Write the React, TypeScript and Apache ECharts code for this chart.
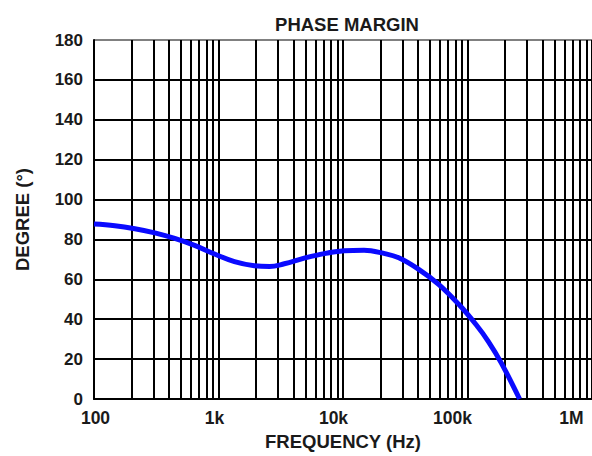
import React, { useEffect, useRef } from "react";
import * as echarts from "echarts";

const freqHz = [100, 147, 213, 308, 445, 643, 929, 1343, 1941, 2570, 3380, 4880, 7060, 10210, 14750, 21310, 28050, 40550, 58610, 84720, 117400, 147200, 187100, 262000];
const phaseDeg = [87.7, 86.9, 85.4, 83.3, 80.5, 77.0, 72.7, 68.9, 66.8, 66.4, 67.8, 70.6, 72.9, 74.3, 74.6, 73.0, 70.8, 65.0, 57.5, 47.6, 37.2, 28.8, 18.0, 0];

const minorGridHz = [
  200, 300, 400, 500, 600, 700, 800, 900,
  2000, 3000, 4000, 5000, 6000, 7000, 8000, 9000,
  20000, 30000, 40000, 50000, 60000, 70000, 80000, 90000,
  200000, 300000, 400000, 500000, 600000, 700000, 800000, 900000,
];

const xTickLabels: Record<number, string> = { 100: "100", 1000: "1k", 10000: "10k", 100000: "100k", 1000000: "1M" };
const yTicks = [0, 20, 40, 60, 80, 100, 120, 140, 160, 180];

const FONT = "'Liberation Sans', Arial, sans-serif";

export default function App() {
  const ref = useRef<HTMLDivElement>(null);
  useEffect(() => {
    if (!ref.current) return;
    const chart = echarts.init(ref.current, undefined, { renderer: "svg" });
    const splitColors = yTicks.map((v, i) => (i === yTicks.length - 1 ? "#808080" : "#000000"));
    chart.setOption({
      animation: false,
      backgroundColor: "#ffffff",
      title: {
        text: "PHASE MARGIN",
        left: 342,
        top: 10,
        textAlign: "center",
        textStyle: { fontFamily: FONT, fontWeight: "bold", fontSize: 18.5, color: "#1a1a1a" },
      },
      grid: [
        { left: 94, top: 40, width: 500, height: 364 },
        { left: 95.5, top: 40, width: 476, height: 364 },
      ],
      xAxis: [
        {
          type: "log",
          gridIndex: 0,
          min: 100,
          max: 1000000,
          logBase: 10,
          name: "FREQUENCY (Hz)",
          nameLocation: "middle",
          nameGap: 33,
          nameTextStyle: { fontFamily: FONT, fontWeight: "bold", fontSize: 18.5, color: "#1a1a1a" },
          axisLine: { show: true, lineStyle: { color: "#000", width: 2 } },
          axisTick: { show: false },
          axisLabel: { show: false },
          splitLine: { show: true, lineStyle: { color: "#000", width: 2 } },
        },
        {
          type: "log",
          gridIndex: 1,
          min: 100,
          max: 1000000,
          logBase: 10,
          axisLine: { show: false },
          axisTick: { show: false },
          splitLine: { show: false },
          axisLabel: {
            show: true,
            margin: 5,
            fontFamily: FONT,
            fontWeight: "bold",
            fontSize: 17.5,
            color: "#1a1a1a",
            formatter: (v: number) => xTickLabels[Math.round(v)] ?? "",
          },
        },
      ],
      yAxis: [
        {
          type: "value",
          gridIndex: 0,
          min: 0,
          max: 180,
          interval: 20,
          name: "DEGREE (°)",
          nameLocation: "middle",
          nameGap: 62,
          nameTextStyle: { fontFamily: FONT, fontWeight: "bold", fontSize: 18.5, color: "#1a1a1a" },
          axisLine: { show: true, lineStyle: { color: "#000", width: 2 } },
          axisTick: { show: false },
          axisLabel: { margin: 11, fontFamily: FONT, fontWeight: "bold", fontSize: 17, color: "#1a1a1a" },
          splitLine: { show: true, lineStyle: { color: splitColors, width: 2 } },
        },
        { type: "value", gridIndex: 1, min: 0, max: 180, show: false },
      ],
      series: [
        {
          type: "line",
          xAxisIndex: 0,
          yAxisIndex: 0,
          data: freqHz.map((f, i) => [f, phaseDeg[i]]),
          smooth: 0.4,
          showSymbol: false,
          symbol: "none",
          lineStyle: { color: "#0a0aff", width: 5 },
          z: 5,
          markLine: {
            silent: true,
            symbol: ["none", "none"],
            label: { show: false },
            lineStyle: { color: "#000", width: 2, type: "solid" },
            data: minorGridHz.map((f) => ({ xAxis: f })),
            z: 1,
          },
        },
      ],
    });
    return () => chart.dispose();
  }, []);
  return <div ref={ref} style={{ width: 592, height: 456, position: "absolute", left: 0, top: 0 }} />;
}
